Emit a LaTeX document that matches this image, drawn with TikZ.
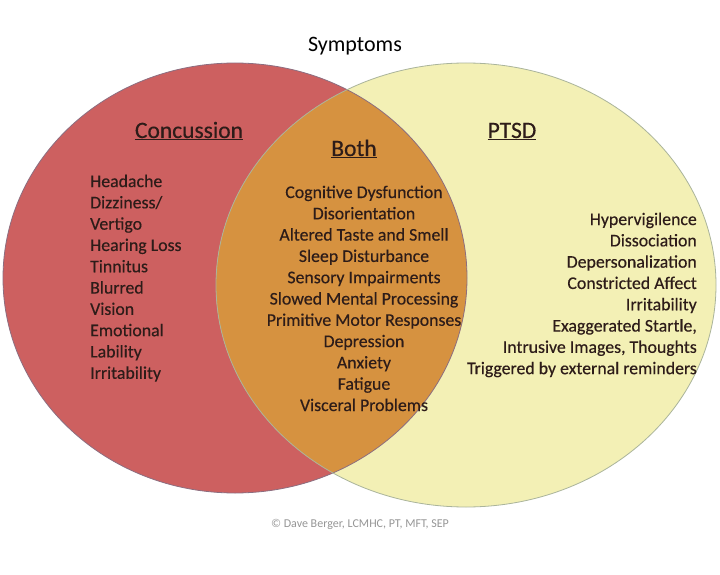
\documentclass[tikz,border=0pt]{standalone}
\usepackage{fontspec}
\setmainfont{Carlito}[FakeBold=0.35]
\newfontfamily\plainfont{Carlito}
\definecolor{redfill}{RGB}{205,96,96}
\definecolor{yelfill}{RGB}{243,240,181}
\definecolor{orgfill}{RGB}{214,146,64}
\definecolor{redline}{RGB}{140,110,128}
\definecolor{yelline}{RGB}{170,180,155}
\definecolor{txt}{RGB}{45,28,25}
\definecolor{copy}{RGB}{150,150,150}
\begin{document}
\begin{tikzpicture}[x=1pt,y=-1pt,
  hdr/.style={font=\fontsize{23.5}{27}\selectfont, text=txt, inner sep=0pt},
  lst/.style={font=\fontsize{17.8}{21.3}\selectfont, text=txt, inner sep=0pt}]
\useasboundingbox[fill=white] (0,0) rectangle (720,575);
% circles
\fill[redfill] (235,278) ellipse [x radius=232pt, y radius=215pt];
\fill[yelfill] (466,285) ellipse [x radius=250pt, y radius=222pt];
\begin{scope}
  \clip (235,278) ellipse [x radius=232pt, y radius=215pt];
  \fill[orgfill] (466,285) ellipse [x radius=250pt, y radius=222pt];
\end{scope}
\draw[redline, line width=0.8pt] (235,278) ellipse [x radius=232pt, y radius=215pt];
\draw[yelline, line width=0.8pt] (466,285) ellipse [x radius=250pt, y radius=222pt];
% texts
\node[anchor=base, font=\plainfont\fontsize{22}{26}\selectfont, inner sep=0pt] (title) at (355,52) {Symptoms};
\node[hdr, anchor=base] (hconc) at (189,138) {\underline{Concussion}};
\node[hdr, anchor=base] (hboth) at (354,156) {\underline{Both}};
\node[hdr, anchor=base] (hptsd) at (512,138) {\underline{PTSD}};
\node[lst, anchor=north west, align=left] (lconc) at (90,174.5) {Headache\\Dizziness/\\Vertigo\\Hearing Loss\\Tinnitus\\Blurred\\Vision\\Emotional\\Lability\\Irritability};
\node[lst, anchor=north, align=center] (lboth) at (364,185.5) {Cognitive Dysfunction\\Disorientation\\Altered Taste and Smell\\Sleep Disturbance\\Sensory Impairments\\Slowed Mental Processing\\Primitive Motor Responses\\Depression\\Anxiety\\Fatigue\\Visceral Problems};
\node[lst, anchor=north east, align=right] (lptsd) at (697,212.5) {Hypervigilence\\Dissociation\\Depersonalization\\Constricted Affect\\Irritability\\Exaggerated Startle,\\Intrusive Images, Thoughts\\Triggered by external reminders};
\node[font=\plainfont\fontsize{12}{14}\selectfont, text=copy, inner sep=0pt] (copyr) at (360,524) {© Dave Berger, LCMHC, PT, MFT, SEP};
\end{tikzpicture}
\end{document}
